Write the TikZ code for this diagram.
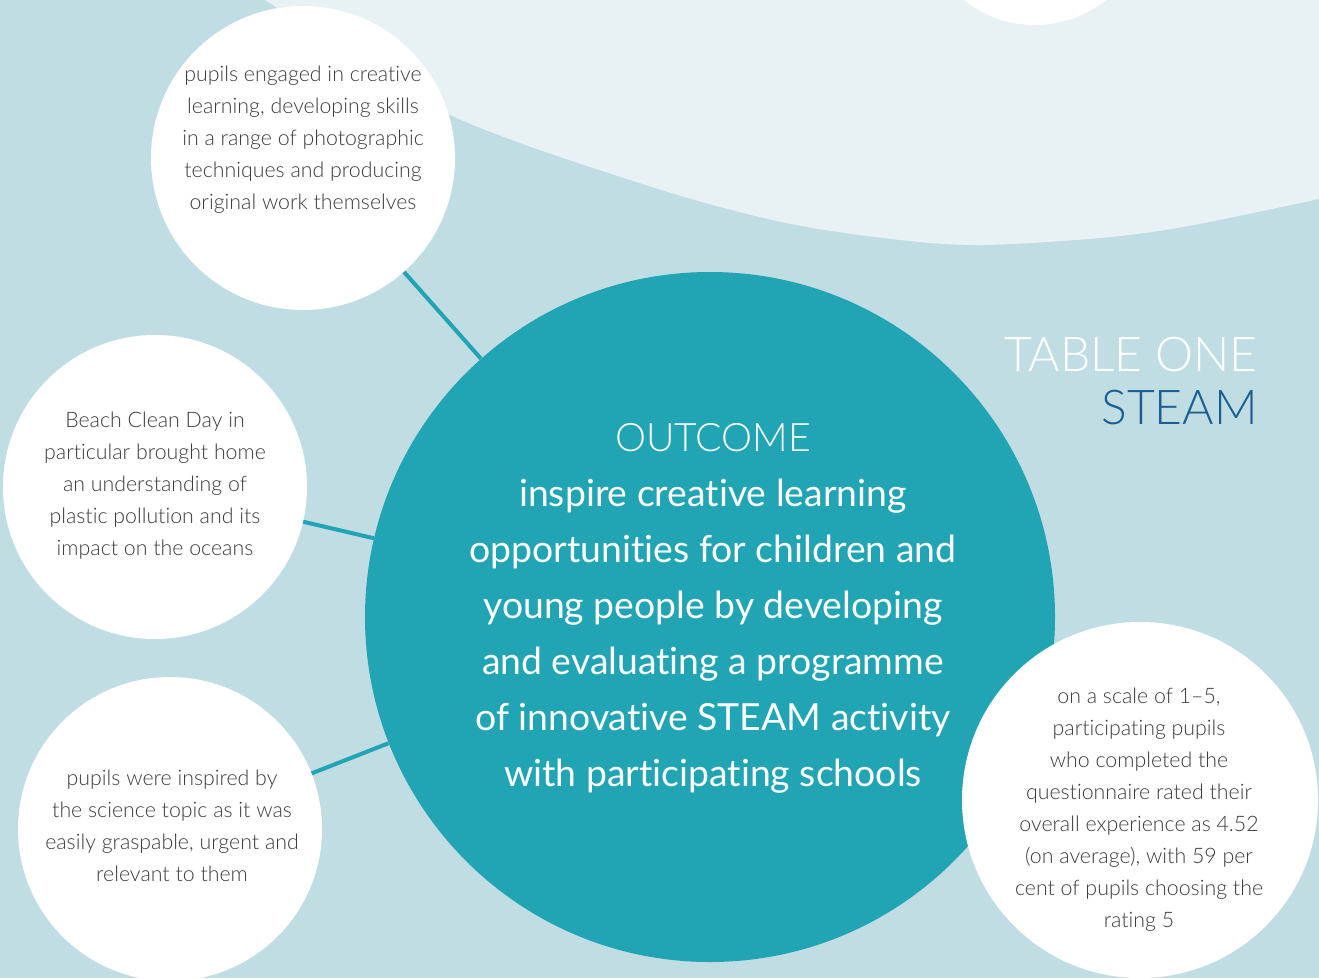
\documentclass[tikz,border=0pt]{standalone}
\usepackage{fontspec}
\setmainfont{Lato}[Ligatures={TeX,NoCommon}]
\newfontfamily\lightfont{Lato}[UprightFont={* Light},Ligatures={TeX,NoCommon}]
\definecolor{bgblue}{HTML}{C0DDE3}
\definecolor{pale}{HTML}{E8F1F4}
\definecolor{teal}{HTML}{21A4B3}
\definecolor{greytext}{HTML}{3C3C3C}
\definecolor{steamblue}{HTML}{1A5E93}
\begin{document}
\begin{tikzpicture}[x=0.75pt,y=-0.75pt,
  bubble/.style={circle,fill=white,inner sep=0pt,minimum size=#1},
  bubbletext/.style={align=center,text=greytext,font=\lightfont\fontsize{16}{24}\selectfont},
  link/.style={draw=teal,line width=3pt}]
\useasboundingbox (0,0) rectangle (1319,978);
\clip (0,0) rectangle (1319,978);
\fill[bgblue] (0,0) rectangle (1319,978);
\fill[pale] plot[smooth] coordinates {(230,-25) (265,0) (446,113) (652,187) (786,223) (900,240) (983,245) (1100,238) (1183,227) (1319,199) (1345,192)} -- (1345,-30) -- cycle;
\node[bubble=169.5pt] (top) at (1035,-88) {};
\node[bubble=228pt] (c1) at (303,158) {};
\node[circle,fill=teal,inner sep=0pt,minimum size=517.5pt] (main) at (710,617) {};
\node[bubble=228pt] (c2) at (155,487) {};
\node[bubble=228pt] (c3) at (170,829) {};
\node[bubble=267pt] (c4) at (1140,800) {};
\draw[link] (c1) -- (main);
\draw[link] (c2) -- (main);
\draw[link] (c3) -- (main);
\node[bubbletext] (t1) at (303,140) {pupils engaged in creative\\learning, developing skills\\in a range of photographic\\techniques and producing\\original work themselves};
\node[bubbletext] (t2) at (155,486) {Beach Clean Day in\\particular brought home\\an understanding of\\plastic pollution and its\\impact on the oceans};
\node[bubbletext] (t3) at (172,826) {pupils were inspired by\\the science topic as it was\\easily graspable, urgent and\\relevant to them};
\node[bubbletext] (t4) at (1139,810) {on a scale of 1–5,\\participating pupils\\who completed the\\questionnaire rated their\\overall experience as 4.52\\(on average), with 59 per\\cent of pupils choosing the\\rating 5};
\node[text=white,font=\lightfont\fontsize{29.4}{32}\selectfont] (oc) at (713,438) {OUTCOME};
\node[align=center,text=white,font=\fontsize{28}{42}\selectfont] (ot) at (713,636) {inspire creative learning\\opportunities for children and\\young people by developing\\and evaluating a programme\\of innovative STEAM activity\\with participating schools};
\node[anchor=east,inner sep=0pt,text=white,font=\lightfont\fontsize{36}{40}\selectfont] (tab) at (1258,355) {TABLE ONE};
\node[anchor=east,inner sep=0pt,text=steamblue,font=\lightfont\fontsize{36}{40}\selectfont] (st) at (1258,408) {STEAM};
\end{tikzpicture}
\end{document}
